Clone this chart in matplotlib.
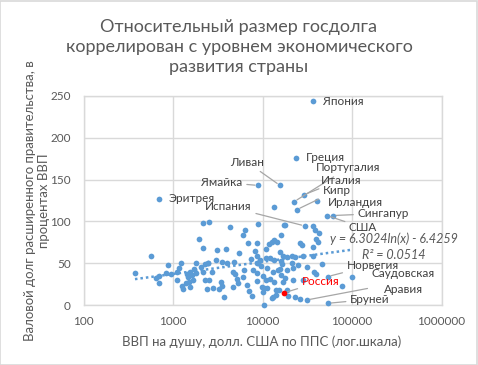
import matplotlib
matplotlib.use("Agg")
import matplotlib.pyplot as plt
from matplotlib.patches import Rectangle
import numpy as np

plt.rcParams['font.family'] = ['Lato', 'Open Sans', 'DejaVu Sans']

# ---- data: GDP per capita (PPP, USD) and gross government debt (% of GDP)
gdp = [376, 568, 641, 703, 703, 835, 873, 950, 1117, 1175, 1228, 1100, 1250, 1303,
       1396, 1459, 1497, 1549, 1422, 1717, 1807, 1686, 1807, 2055, 2182, 2280, 2547,
       2729, 2381, 2820, 3437, 3500, 3289, 3742, 4645, 4930, 5150, 5284, 4717, 6100,
       6261, 7117, 7570, 6762, 7890, 8750, 8610, 9795, 9550, 10210, 10860, 10470,
       10050, 10400, 12670, 13000, 13550, 14160, 15700, 16100, 17070, 15400,
       2182, 2547, 4335, 8980, 17530, 6370, 6010, 15960, 1937, 6835, 8690, 12670,
       13550, 11830, 10940, 2182, 3078, 3943, 8240, 5508, 16810, 2479, 3020, 3556,
       3981, 4842, 7380, 8980, 10860, 13550, 15960, 8690,
       13440, 17840, 36960, 38620, 43150, 14420, 26240, 27420, 39300, 41990, 36380,
       15700, 21200, 23070, 28570, 36960, 12130, 16390, 21200, 25120, 31190, 45850,
       11320, 15020, 18640, 22080, 37600, 39620, 12130, 17840, 22080, 28570, 11320,
       14160, 19420, 23070, 13210, 26240, 76700, 100700,
       9380, 8780, 1549, 2280, 2440, 18640, 18640, 1610]
debt = [38.6, 58.6, 32.7, 34.7, 26.7, 38.6, 47.8, 37.1, 39.8, 43.9, 49.9, 29.9, 22.7, 18.8,
        26.0, 33.1, 27.9, 21.9, 37.1, 42.7, 38.6, 29.9, 49.9, 45.8, 39.8, 29.9, 29.9,
        39.5, 18.8, 20.0, 27.5, 22.7, 18.8, 9.2, 39.8, 37.1, 30.7, 26.0, 21.2, 33.1,
        41.9, 17.1, 10.8, 23.9, 41.9, 38.6, 29.1, 21.9, 46.6, 34.7, 29.9, 20.0,
        15.9, 0.0, 8.0, 39.8, 27.9, 12.0, 42.7, 35.9, 27.9, 17.9,
        98.4, 99.6, 92.9, 96.5, 95.3, 89.7, 84.1, 83.4, 79.3, 73.8, 74.5, 75.7,
        77.7, 72.6, 66.6, 67.8, 65.8, 66.6, 64.9, 62.6, 58.6, 50.6, 53.8, 51.8,
        50.6, 51.4, 54.7, 50.6, 55.9, 53.8, 53.0, 58.6,
        116.8, 95.7, 94.5, 89.7, 86.5, 75.7, 73.8, 71.7, 79.3, 75.7, 69.7,
        63.7, 58.6, 57.8, 58.6, 58.6, 55.9, 49.0, 49.9, 47.8, 45.8, 48.7,
        43.9, 41.9, 41.9, 43.9, 39.8, 37.1, 30.7, 31.9, 29.9, 29.9, 20.0,
        17.9, 10.8, 9.9, 9.9, 6.8, 22.7, 33.1,
        53.8, 50.6, 39.8, 49.0, 49.9, 57.0, 17.9, 35.9]

# named countries
names = ['Япония', 'Греция', 'Португалия', 'Италия', 'Кипр', 'Ирландия', 'Сингапур',
         'США', 'Ливан', 'Ямайка', 'Эритрея', 'Испания', 'Норвегия',
         'Саудовская\nАравия', 'Бруней']
named_gdp = [36960, 23500, 22500, 29300, 24100, 40950, 60850, 52560, 15700, 8980, 698,
             29850, 53500, 31200, 53500]
named_debt = [244, 176, 123.5, 132, 114, 124, 107, 107, 143, 143, 126.4, 94.5, 34, 6, 2]
label_x = [47800, 30600, 39300, 44700, 47000, 53500, 115000, 92500, 10480, 6010, 900,
           7600, 87000, 374000, 95000]
label_y = [244, 176, 164, 149.5, 137, 123, 109.6, 92.5, 170.6, 146.7, 127.0, 117.8,
           47.8, 27.9, 6.8]
label_ha = ['left', 'left', 'left', 'left', 'left', 'left', 'left', 'left', 'right',
            'right', 'left', 'right', 'left', 'center', 'left']
label_line = [False, False, True, True, True, False, True, True, True, True, False,
              True, True, True, True]

russia_name = 'Россия'
russia_gdp = 17530
russia_debt = 14.7
russia_label_x = 27400
russia_label_y = 27.9

trend_a = 6.3024
trend_b = -6.4259
r2 = 0.0514

title = 'Относительный размер госдолга\nкоррелирован с уровнем экономического\nразвития страны'
xlabel = 'ВВП на душу, долл. США по ППС (лог.шкала)'
ylabel = 'Валовой долг расширенного правительства, в\nпроцентах ВВП'
xticks = [100, 1000, 10000, 100000, 1000000]
xticklabels = ['100', '1000', '10000', '100000', '1000000']
yticks = [0, 50, 100, 150, 200, 250]

BLUE = '#5B9BD5'
GRID = '#D9D9D9'
TXT = '#595959'
LBL = '#404040'

fig = plt.figure(figsize=(4.78, 3.65), dpi=100)
ax = fig.add_axes([83.5 / 478, 60 / 365, 358 / 478, 209 / 365])

ax.set_xscale('log')
ax.set_xlim(100, 1000000)
ax.set_ylim(0, 250)
ax.set_xticks(xticks)
ax.set_xticklabels(xticklabels)
ax.set_yticks(yticks)
ax.xaxis.set_minor_locator(matplotlib.ticker.NullLocator())
ax.tick_params(length=0, labelsize=8.5, labelcolor=TXT)
ax.tick_params(axis='y', pad=9)
ax.tick_params(axis='x', pad=8)
ax.grid(True, color=GRID, lw=1)
ax.set_axisbelow(True)
for s in ax.spines.values():
    s.set_color(GRID)
    s.set_linewidth(1)

all_gdp = np.array(gdp + named_gdp + [russia_gdp], dtype=float)
ax.scatter(gdp + named_gdp, debt + named_debt, s=17, color=BLUE, zorder=3, lw=0, clip_on=False)
ax.scatter([russia_gdp], [russia_debt], s=17, color='#FF0000', zorder=4, lw=0)

# trendline (logarithmic, as shown in chart)
xt = np.logspace(np.log10(all_gdp.min()), np.log10(all_gdp.max()), 200)
ax.plot(xt, trend_a * np.log(xt) + trend_b, ls=(0, (1, 1.2)), color=BLUE, lw=1.8, zorder=2)

ax.text(291000, 69.5, f'y = {trend_a}ln(x) - {abs(trend_b)}\nR² = {r2}',
        ha='center', va='center', style='italic', color=TXT, fontsize=9,
        linespacing=1.35, clip_on=False, zorder=5)

for n, gx, gy, lx, ly, ha, ln in zip(names, named_gdp, named_debt, label_x, label_y,
                                       label_ha, label_line):
    ap = dict(arrowstyle='-', color='#A6A6A6', lw=0.9, shrinkA=1, shrinkB=2.5) if ln else None
    ax.annotate(n, xy=(gx, gy), xytext=(lx, ly), ha=ha, va='center', fontsize=8.5,
                color=LBL, arrowprops=ap, annotation_clip=False, zorder=5,
                multialignment='center', linespacing=1.5)

ax.annotate(russia_name, xy=(russia_gdp, russia_debt), xytext=(russia_label_x, russia_label_y),
            ha='left', va='center', fontsize=8.5, color='#FF0000',
            arrowprops=dict(arrowstyle='-', color='#A6A6A6', lw=0.9, shrinkA=1, shrinkB=2.5),
            zorder=5)

fig.text(0.5, 1 - 47 / 365, title, ha='center', va='center', fontsize=13, color=TXT,
         linespacing=1.3)
fig.text(261.7 / 478, 1 - 341.7 / 365, xlabel, ha='center', va='center', fontsize=9.5,
         color=TXT)
fig.text(37 / 478, 1 - 201 / 365, ylabel, ha='center', va='center', rotation=90,
         fontsize=9.5, color=TXT, multialignment='center', linespacing=1.15)

fig.patches.append(Rectangle((0.001, 0.001), 0.997, 0.997, transform=fig.transFigure,
                             fill=False, edgecolor=GRID, lw=1.2))

fig.savefig('out.png', dpi=100)
